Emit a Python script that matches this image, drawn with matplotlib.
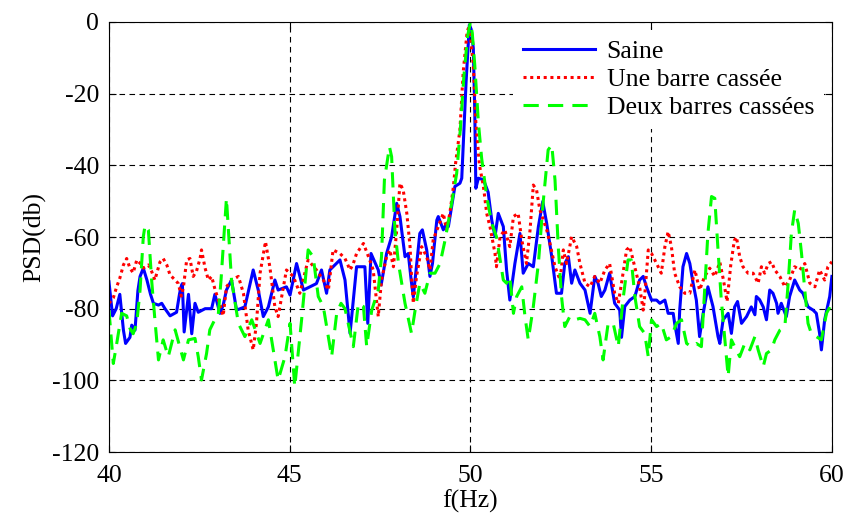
import matplotlib
matplotlib.use("Agg")
import matplotlib.pyplot as plt

# Saine
f_saine = [40.0, 40.1, 40.2, 40.3, 40.4, 40.46, 40.58, 40.63, 40.72, 40.8, 40.86, 40.95,
           41.05, 41.15, 41.23, 41.37, 41.46, 41.55, 41.69, 41.87, 41.95, 41.99, 42.03, 42.08,
           42.2, 42.29, 42.38, 42.47, 42.66, 42.84, 42.93, 43.07, 43.16, 43.25, 43.39, 43.53,
           43.76, 43.99, 44.13, 44.27, 44.41, 44.59, 44.68, 44.91, 45.01, 45.19, 45.38, 45.56,
           45.74, 45.88, 46.02, 46.11, 46.39, 46.53, 46.67, 46.85, 47.08, 47.16, 47.25, 47.45,
           47.53, 47.68, 47.82, 47.96, 48.05, 48.19, 48.28, 48.36, 48.42, 48.6, 48.67, 48.79,
           48.88, 48.95, 49.07, 49.11, 49.25, 49.34, 49.39, 49.48, 49.57, 49.71, 49.76, 49.88,
           49.97, 50.02, 50.08, 50.12, 50.15, 50.22, 50.36, 50.49, 50.59, 50.68, 50.77, 50.91,
           51.0, 51.09, 51.23, 51.37, 51.46, 51.6, 51.74, 51.88, 52.0, 52.11, 52.25, 52.38,
           52.52, 52.61, 52.71, 52.8, 52.89, 53.03, 53.17, 53.31, 53.44, 53.53, 53.62, 53.72,
           53.85, 53.99, 54.13, 54.18, 54.27, 54.41, 54.55, 54.68, 54.78, 54.87, 55.01, 55.15,
           55.24, 55.38, 55.47, 55.61, 55.65, 55.75, 55.79, 55.88, 55.98, 56.07, 56.16, 56.25,
           56.34, 56.44, 56.57, 56.71, 56.85, 56.9, 56.99, 57.13, 57.22, 57.31, 57.39, 57.5,
           57.64, 57.77, 57.87, 57.91, 58.0, 58.1, 58.19, 58.28, 58.37, 58.47, 58.51, 58.6,
           58.74, 58.83, 58.97, 59.11, 59.2, 59.34, 59.48, 59.57, 59.66, 59.71, 59.8, 59.94, 60.0]
psd_saine = [-72.5, -82, -80, -76, -86, -89.7, -88, -84.6, -86, -75, -71, -68.7,
             -72, -76, -78.5, -79, -78.5, -80, -82, -81, -76, -74, -73, -86.5,
             -76, -87, -78.5, -81, -80, -80, -76, -81.3, -79, -74.8, -72, -80.4,
             -79.5, -69.2, -74.8, -82.2, -79.5, -72, -74.8, -73.9, -76.2, -67.4, -74.8, -73.9,
             -73, -69.2, -75.7, -69.2, -66.4, -72, -86.9, -68.3, -68.3, -84.1, -64.6, -69.2,
             -73.4, -64.6, -59.9, -50.6, -54.3, -65.5, -64.6, -72, -76.7, -59, -58, -63.6,
             -71, -67.4, -55.3, -54.3, -58, -56.2, -57.1, -51.5, -45.9, -45, -43.6, -16.7,
             -0.8, -2, -7.3, -25, -46.4, -43.6, -44, -47.5, -55.3, -59.9, -53.4, -57.1,
             -69.2, -77.6, -67.4, -59, -70.1, -67.4, -68.3, -57.1, -50.1, -56.2, -65.5, -75.7,
             -75.7, -67.4, -65.5, -72.9, -69.2, -72.9, -74.8, -81.3, -71, -72.9, -76.6, -74.8,
             -70.1, -78.5, -80.4, -88, -79.4, -77.6, -76.6, -72, -71, -73.9, -77.6, -77.6,
             -78.5, -77.6, -81.3, -81.3, -84.1, -89.7, -80.4, -68.3, -64.6, -67.4, -72.9, -77.6,
             -87.8, -81.3, -73.9, -79.4, -87.8, -89.7, -83.1, -81.3, -86.9, -79.5, -78, -84.1,
             -82.2, -79.5, -81.7, -76.6, -77.5, -79.5, -83.1, -74.8, -75.7, -78.5, -81.3, -78.5,
             -82.2, -76.6, -72, -74.8, -75.7, -79.5, -80.4, -81.3, -86.9, -91.5, -83.1, -76.6, -71]

# Une barre cassee
f_une = [40.0, 40.12, 40.21, 40.3, 40.4, 40.49, 40.58, 40.67, 40.77, 40.86, 40.95, 41.09,
         41.18, 41.27, 41.41, 41.5, 41.6, 41.69, 41.83, 41.92, 42.0, 42.06, 42.15, 42.24,
         42.33, 42.42, 42.52, 42.56, 42.66, 42.75, 42.84, 42.93, 43.07, 43.16, 43.25, 43.4,
         43.58, 43.72, 43.85, 43.99, 44.08, 44.18, 44.33, 44.45, 44.59, 44.68, 44.91, 45.1,
         45.28, 45.51, 45.74, 45.93, 46.07, 46.2, 46.39, 46.53, 46.67, 46.76, 46.85, 47.04,
         47.18, 47.31, 47.45, 47.54, 47.68, 47.77, 47.87, 47.96, 48.05, 48.14, 48.24, 48.33,
         48.37, 48.42, 48.51, 48.65, 48.79, 48.88, 48.97, 49.11, 49.25, 49.34, 49.43, 49.53,
         49.59, 49.71, 49.8, 49.9, 49.94, 50.0, 50.08, 50.15, 50.25, 50.36, 50.45, 50.54,
         50.68, 50.72, 50.82, 50.95, 51.09, 51.19, 51.32, 51.42, 51.55, 51.65, 51.74, 51.83,
         51.92, 52.11, 52.2, 52.34, 52.48, 52.57, 52.66, 52.8, 52.94, 53.03, 53.17, 53.31,
         53.44, 53.58, 53.72, 53.85, 53.99, 54.09, 54.18, 54.32, 54.41, 54.5, 54.59, 54.68,
         54.78, 54.82, 54.92, 55.01, 55.15, 55.28, 55.38, 55.47, 55.56, 55.65, 55.79, 55.93,
         56.07, 56.21, 56.34, 56.48, 56.62, 56.76, 56.9, 57.0, 57.1, 57.2, 57.3, 57.36,
         57.45, 57.54, 57.68, 57.82, 57.96, 58.05, 58.14, 58.24, 58.33, 58.42, 58.56, 58.7,
         58.83, 58.97, 59.11, 59.25, 59.39, 59.53, 59.66, 59.8, 59.89, 60.0]
psd_une = [-78.5, -77, -74, -71.5, -67.8, -66, -68.7, -70, -66.4, -67.3, -68.7, -67.8,
           -69.6, -72, -67, -66, -67.8, -70.6, -72, -73, -76.5, -74, -66.4, -66,
           -71, -69.6, -66, -63.6, -68.7, -72, -71, -74.5, -79, -82, -73.9, -72,
           -71, -75.7, -85.9, -91.5, -84.1, -70.1, -61.3, -68.3, -79.5, -82.2, -69.2, -71,
           -75.7, -66.4, -69.2, -72, -74.8, -63.6, -64.6, -66, -69.2, -67.4, -64.6, -61.8,
           -65.5, -69.2, -82.2, -72, -65.5, -63.6, -68.3, -58, -45, -46.9, -53.4, -62.7,
           -71, -78.5, -71, -62.7, -65.5, -69.2, -60.8, -57.1, -53.4, -58, -53.4, -45.9,
           -39.4, -30, -14, -3.6, -1.8, -4, -12, -28, -40, -45.9, -53.4, -57.1,
           -64.6, -68.3, -59.9, -58, -62.7, -54.3, -53.4, -60.8, -67.4, -58, -45.5, -46.9,
           -52.4, -58, -61.8, -68.3, -72, -63.6, -67.4, -59.9, -62.7, -67.4, -72.9, -73.9,
           -71, -72.9, -69.2, -67.4, -75.7, -78.5, -72.9, -63.6, -62.7, -66.4, -70.1, -73.9,
           -80.4, -76.6, -63.6, -64.6, -67.4, -70.1, -62.7, -58.5, -62.7, -70.1, -73.9, -75.7,
           -75.7, -69.2, -74.8, -71, -68.7, -71, -67, -72, -78, -68, -61, -60,
           -65.5, -68.3, -70.1, -70.1, -72.9, -68.3, -70.1, -67.4, -66.9, -69.2, -71, -73.9,
           -72, -68.3, -69.2, -67.4, -72.9, -73.9, -69.2, -72, -68.3, -66.9]

# Deux barres cassees
f_deux = [40.0, 40.12, 40.21, 40.35, 40.49, 40.58, 40.67, 40.77, 40.86, 40.95, 41.0, 41.09,
          41.18, 41.27, 41.37, 41.5, 41.64, 41.83, 41.96, 42.06, 42.2, 42.38, 42.47, 42.56,
          42.7, 42.79, 42.93, 43.02, 43.1, 43.25, 43.39, 43.58, 43.76, 43.95, 44.18, 44.41,
          44.68, 44.87, 45.01, 45.14, 45.33, 45.51, 45.65, 45.79, 45.93, 46.16, 46.3, 46.42,
          46.53, 46.76, 46.9, 47.04, 47.13, 47.27, 47.45, 47.54, 47.62, 47.76, 47.82, 47.91,
          48.01, 48.19, 48.37, 48.47, 48.6, 48.74, 48.88, 49.02, 49.16, 49.3, 49.48, 49.62,
          49.72, 49.82, 49.92, 50.0, 50.05, 50.12, 50.22, 50.31, 50.45, 50.59, 50.72, 50.91,
          51.0, 51.09, 51.19, 51.28, 51.42, 51.51, 51.6, 51.74, 51.88, 52.01, 52.15, 52.25,
          52.34, 52.43, 52.52, 52.61, 52.75, 52.89, 53.03, 53.17, 53.31, 53.44, 53.58, 53.67,
          53.81, 53.95, 54.09, 54.22, 54.36, 54.45, 54.55, 54.68, 54.82, 54.92, 55.01, 55.15,
          55.28, 55.42, 55.56, 55.7, 55.84, 55.98, 56.11, 56.25, 56.39, 56.48, 56.57, 56.67,
          56.76, 56.85, 56.94, 57.04, 57.13, 57.22, 57.31, 57.45, 57.59, 57.73, 57.87, 57.96,
          58.1, 58.19, 58.33, 58.42, 58.56, 58.7, 58.79, 58.88, 58.97, 59.07, 59.16, 59.25,
          59.34, 59.43, 59.57, 59.71, 59.85, 60.0]
psd_deux = [-80.4, -95.3, -90, -81.3, -82, -85.5, -87, -84, -74.8, -59.9, -56.7, -58,
            -72, -83, -94.3, -88.7, -93.4, -85.9, -90.6, -94.3, -88.7, -88.3, -93.4, -99.9,
            -92.5, -85.9, -83, -82.2, -72, -49.2, -72, -84.1, -87.8, -83.1, -89.7, -83.1,
            -99.9, -93.4, -84.1, -101.8, -83, -63.6, -65.5, -76.6, -79.4, -93.4, -81.3, -78.5,
            -80, -90.6, -78.5, -79.4, -90.6, -80.4, -74.8, -65.5, -44.1, -34.8, -37.6, -58,
            -67.4, -78.5, -86.9, -80.4, -72.9, -75.7, -70.1, -70.1, -67.4, -60.8, -50.6, -42.2,
            -30, -15, -4, 0, -3, -12, -28, -38, -48.7, -56.2, -59.9, -72,
            -72.9, -71, -81.3, -76.6, -73.9, -82.2, -88.7, -79.4, -67.4, -50.6, -35.7, -34.3,
            -44.1, -62.7, -76.6, -85, -82.2, -83.1, -82.7, -83.1, -85, -81.3, -87.8, -94.3,
            -84.1, -84.1, -90.6, -77.6, -66.4, -66.4, -76.6, -85, -86.9, -93.4, -83.1, -85,
            -84.1, -88.7, -87.8, -84.1, -83.1, -89.7, -90.6, -89.7, -90.6, -74.8, -59, -48.7,
            -49.2, -63.6, -77.5, -88.7, -98.9, -88.7, -90.6, -93.4, -89.7, -91.5, -87.8, -91.5,
            -96.2, -92.5, -91.5, -88.7, -86, -85, -72.9, -58.9, -52.5, -56.2, -64.6, -74.8,
            -84.1, -86.9, -87.8, -88.7, -81.3, -78.5]

plt.rcParams['font.family'] = ['Liberation Serif', 'DejaVu Serif']
plt.rcParams['font.size'] = 18.5
plt.rcParams['axes.unicode_minus'] = False

fig = plt.figure(figsize=(8.48, 5.21), dpi=100)
ax = fig.add_axes([0.1285, 0.1324, 0.8525, 0.8254])

ax.plot(f_saine, psd_saine, color='#0000ff', lw=2.2, label='Saine')
ax.plot(f_une, psd_une, color='#ff0000', lw=2.2, linestyle=(0, (1, 1.2)), label='Une barre cassée')
ax.plot(f_deux, psd_deux, color='#00ff00', lw=2.2, linestyle=(0, (5, 3)), label='Deux barres cassées')

ax.set_xlim(40, 60)
ax.set_ylim(-120, 0)
ax.set_xticks([40, 45, 50, 55, 60])
ax.set_yticks([0, -20, -40, -60, -80, -100, -120])
ax.grid(True, color='black', linestyle=(0, (5, 4)), linewidth=0.8)
ax.set_axisbelow(True)
ax.tick_params(direction='in', top=True, right=True, length=5, width=0.8)
ax.tick_params(axis='x', pad=9)
ax.tick_params(axis='y', pad=7)
for sp in ax.spines.values():
    sp.set_linewidth(0.8)

ax.set_xlabel('f(Hz)', labelpad=2)
ax.set_ylabel('PSD(db)', labelpad=4)

leg = ax.legend(loc='upper right', frameon=True, fancybox=False, framealpha=1,
                edgecolor='none', facecolor='white', handlelength=2.8,
                handletextpad=0.45, labelspacing=0.2, borderaxespad=0.3)

fig.savefig('out.png', dpi=100)
